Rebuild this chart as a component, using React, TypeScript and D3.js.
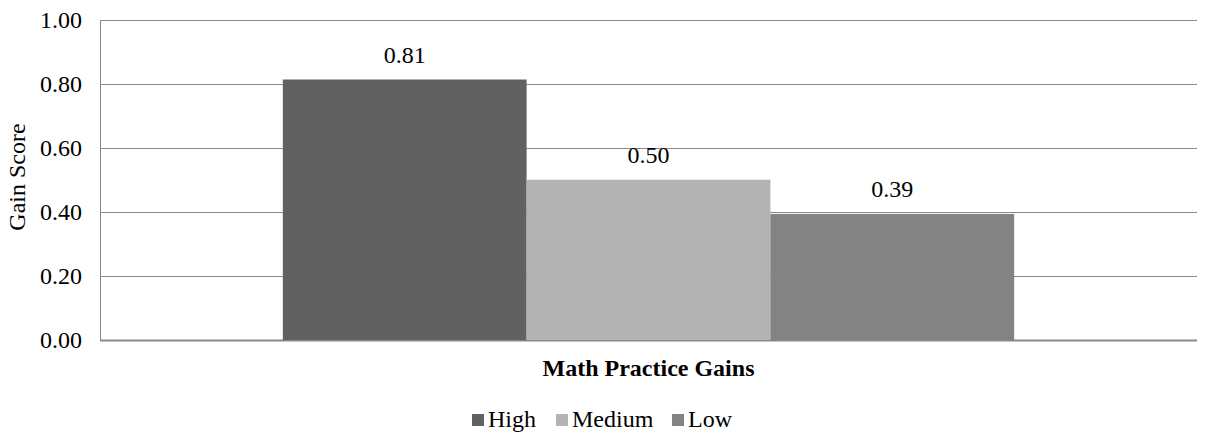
import React from "react";
import * as d3 from "d3";

const categories = ["Math Practice Gains"];
const seriesNames = ["High", "Medium", "Low"];
const seriesValues = [0.814, 0.501, 0.394];
const seriesColors = ["#616161", "#b3b3b3", "#838383"];
const yTicks = [0, 0.2, 0.4, 0.6, 0.8, 1.0];

const W = 1208;
const H = 432;
const plot = { left: 100, right: 1197, top: 20, bottom: 340 };
const FONT = "Liberation Serif, Tinos, Times New Roman, DejaVu Serif, serif";
const GRID = "#888888";
const FS = 24;

export default function App() {
  const y = d3.scaleLinear().domain([0, 1]).range([plot.bottom, plot.top]);
  const x0 = d3
    .scaleBand<string>()
    .domain(categories)
    .range([plot.left, plot.right])
    .paddingInner(0)
    .paddingOuter(0.25);
  const x1 = d3
    .scaleBand<string>()
    .domain(seriesNames)
    .range([0, x0.bandwidth()])
    .padding(0);
  const fmt = d3.format(".2f");

  // legend layout: square + label per series
  const legendItems = [
    { sq: 472, tx: 488 },
    { sq: 556, tx: 572 },
    { sq: 672, tx: 688 },
  ];

  return (
    <svg
      width={W}
      height={H}
      style={{ position: "absolute", left: 0, top: 0, background: "#fff", fontFamily: FONT }}
    >
      {yTicks.map((t) => (
        <g key={t}>
          <line
            x1={plot.left}
            x2={plot.right}
            y1={Math.round(y(t)) + 0.5}
            y2={Math.round(y(t)) + 0.5}
            stroke={GRID}
            strokeWidth={t === 0 ? 2 : 1}
          />
          <text
            x={82}
            y={y(t)}
            dy="0.33em"
            textAnchor="end"
            fontSize={FS}
            fill="#000"
          >
            {fmt(t)}
          </text>
        </g>
      ))}
      <line
        x1={plot.left + 0.5}
        x2={plot.left + 0.5}
        y1={plot.top}
        y2={plot.bottom}
        stroke={GRID}
        strokeWidth={1}
      />
      <text
        transform={`translate(25, 177) rotate(-90)`}
        textAnchor="middle"
        fontSize={FS}
        fill="#000"
      >
        Gain Score
      </text>

      {categories.map((c) => (
        <g key={c} transform={`translate(${x0(c)},0)`}>
          {seriesNames.map((s, i) => {
            const v = seriesValues[i];
            const bx = x1(s) as number;
            return (
              <g key={s}>
                <rect
                  x={bx}
                  y={y(v)}
                  width={x1.bandwidth()}
                  height={y(0) - y(v)}
                  fill={seriesColors[i]}
                />
                <text
                  x={bx + x1.bandwidth() / 2}
                  y={y(v) - 17}
                  textAnchor="middle"
                  fontSize={FS}
                  fill="#000"
                >
                  {fmt(v)}
                </text>
              </g>
            );
          })}
          <text
            x={x0.bandwidth() / 2}
            y={376}
            textAnchor="middle"
            fontSize={FS}
            fontWeight="bold"
            fill="#000"
          >
            {c}
          </text>
        </g>
      ))}

      {seriesNames.map((s, i) => (
        <g key={s}>
          <rect
            x={legendItems[i].sq}
            y={414}
            width={12}
            height={12}
            fill={seriesColors[i]}
          />
          <text x={legendItems[i].tx} y={427} fontSize={FS} fill="#000">
            {s}
          </text>
        </g>
      ))}
    </svg>
  );
}
